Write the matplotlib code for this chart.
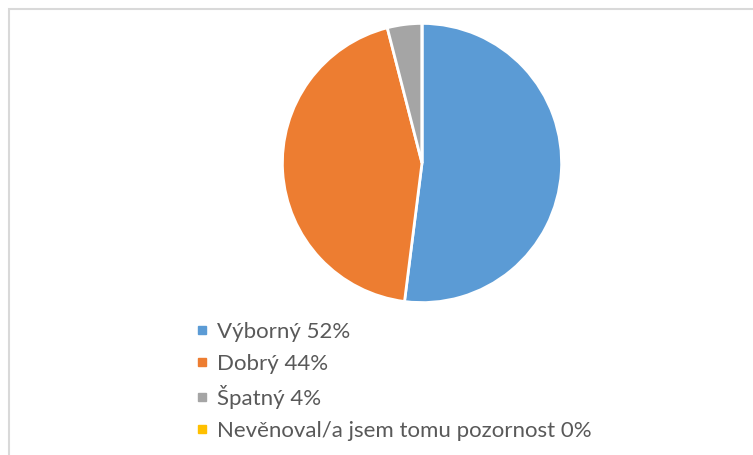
import matplotlib
matplotlib.use("Agg")
import matplotlib.pyplot as plt
from matplotlib.lines import Line2D
from matplotlib.patches import Rectangle

categories = ["Výborný", "Dobrý", "Špatný", "Nevěnoval/a jsem tomu pozornost"]
values = [52, 44, 4, 0]
colors = ["#5B9BD5", "#ED7D31", "#A5A5A5", "#FFC000"]

W, H = 753, 455
fig = plt.figure(figsize=(W / 100, H / 100), dpi=100)

# light frame of the chart area
fig.patches.append(Rectangle((8.5 / W, -0.1), 1.2, 1 - 9 / H + 0.1,
                             transform=fig.transFigure, fill=False,
                             edgecolor="#D9D9D9", linewidth=1.5))

cx, cy, r = 422, 163, 141
ax = fig.add_axes([(cx - r) / W, (H - cy - r) / H, 2 * r / W, 2 * r / H])
ax.pie(values, colors=colors, startangle=90, counterclock=False, radius=1,
       wedgeprops=dict(edgecolor="white", linewidth=2))
ax.set_xlim(-1.01, 1.01)
ax.set_ylim(-1.01, 1.01)
ax.set_aspect("equal")
ax.axis("off")

handles = [Line2D([], [], marker="s", linestyle="none", markersize=5.5,
                  markerfacecolor=c, markeredgecolor=c) for c in colors]
labels = [f"{c} {v}%" for c, v in zip(categories, values)]
fig.legend(handles, labels, loc="upper left",
           bbox_to_anchor=(183 / W, 1 - 311 / H), frameon=False,
           prop=dict(family="Lato", size=16), labelcolor="#595959",
           handlelength=0.7, handletextpad=0.35, labelspacing=0.52,
           borderpad=0)

fig.savefig("out.png", dpi=100)
